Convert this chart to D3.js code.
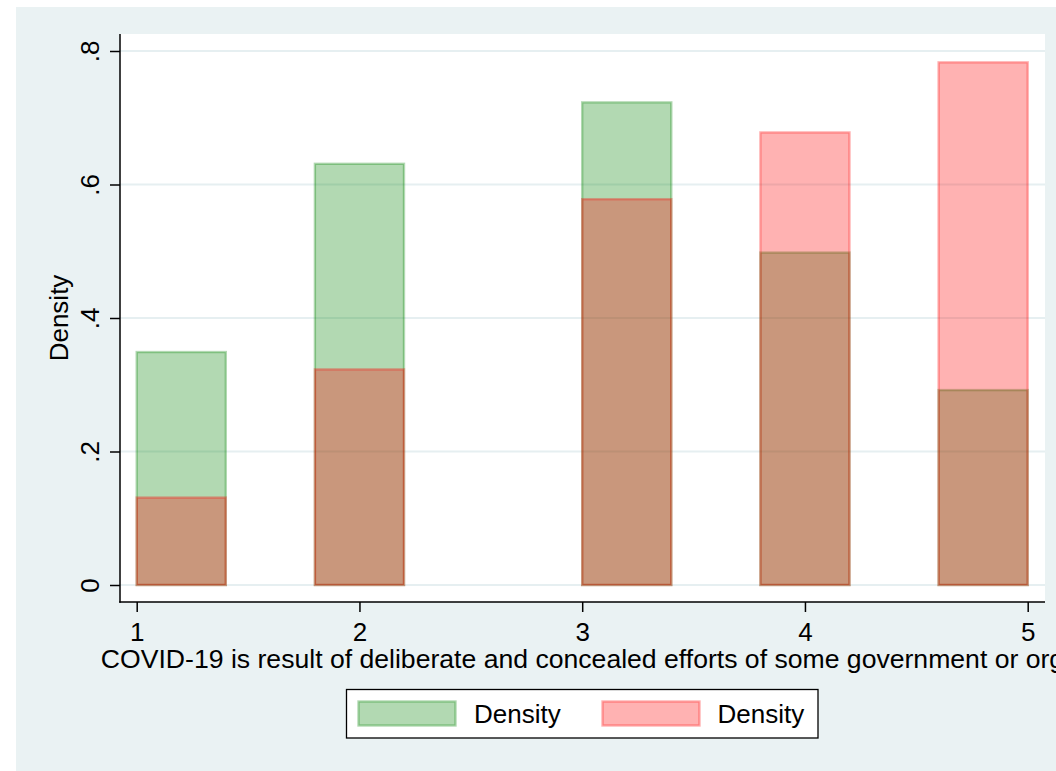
<!DOCTYPE html>
<html>
<head>
<meta charset="utf-8">
<script src="https://cdn.jsdelivr.net/npm/d3@7"></script>
<style>
  html, body { margin: 0; padding: 0; background: #ffffff; }
  svg { display: block; }
  text { font-family: "Liberation Sans", Arial, sans-serif; fill: #000; }
</style>
</head>
<body>
<svg id="chart" width="1056" height="771"></svg>
<script>
// ---- data ----
const binStarts = [1.0, 1.8, 3.0, 3.8, 4.6];      // lower edge of each non-empty bin
const binWidth = 0.4;
const greenDensity = [0.349, 0.631, 0.723, 0.498, 0.292];
const redDensity   = [0.131, 0.323, 0.578, 0.678, 0.783];
const xTicks = [1, 2, 3, 4, 5];
const yTicks = [0, 0.2, 0.4, 0.6, 0.8];
const yTickLabels = ["0", ".2", ".4", ".6", ".8"];
const seriesNames = ["Density", "Density"];
const xTitle = "COVID-19 is result of deliberate and concealed efforts of some government or org";
const yTitle = "Density";

// ---- layout ----
const bg = { x: 16, y: 7, w: 1056 - 16, h: 771 - 7 };
const plot = { left: 120, right: 1045, top: 34, bottom: 602 };
const FS = 26;

const svg = d3.select("#chart");
svg.append("rect").attr("x", bg.x).attr("y", bg.y).attr("width", bg.w).attr("height", bg.h)
  .attr("fill", "#eaf2f3");
svg.append("rect").attr("x", plot.left).attr("y", plot.top)
  .attr("width", plot.right - plot.left).attr("height", plot.bottom - plot.top)
  .attr("fill", "#ffffff");

const x = d3.scaleLinear().domain([1, 5]).range([136.7, 1027.7]);
const y = d3.scaleLinear().domain([0, 0.8]).range([585, 51]);

// gridlines
svg.append("g").selectAll("line").data(yTicks).join("line")
  .attr("x1", plot.left).attr("x2", plot.right)
  .attr("y1", d => y(d)).attr("y2", d => y(d))
  .attr("stroke", "#e6eff1").attr("stroke-width", 1.8);

// bars
const greenCol = "rgba(0,128,0,0.3)";
const redCol = "rgba(255,0,0,0.3)";
function drawBars(vals, col) {
  svg.append("g").selectAll("rect").data(vals).join("rect")
    .attr("x", (d, i) => x(binStarts[i]))
    .attr("width", (d, i) => x(binStarts[i] + binWidth) - x(binStarts[i]))
    .attr("y", d => y(d))
    .attr("height", d => y(0) - y(d))
    .attr("fill", col)
    .attr("stroke", col)
    .attr("stroke-width", 2.4);
}
drawBars(greenDensity, greenCol);
drawBars(redDensity, redCol);

// axes lines
svg.append("line").attr("x1", plot.left).attr("x2", plot.left)
  .attr("y1", plot.top).attr("y2", plot.bottom + 0.75)
  .attr("stroke", "#000").attr("stroke-width", 1.5);
svg.append("line").attr("x1", plot.left - 0.75).attr("x2", plot.right)
  .attr("y1", plot.bottom).attr("y2", plot.bottom)
  .attr("stroke", "#000").attr("stroke-width", 1.5);

// y axis
const yAxis = d3.axisLeft(y).tickValues(yTicks)
  .tickFormat((d, i) => yTickLabels[i]).tickSize(10).tickSizeOuter(0);
const gy = svg.append("g").attr("transform", `translate(${plot.left},0)`).call(yAxis);
gy.select(".domain").remove();
gy.selectAll(".tick line").attr("stroke", "#000").attr("stroke-width", 1.5);
gy.selectAll(".tick text")
  .attr("x", null).attr("dy", null)
  .attr("transform", "translate(-21,0) rotate(-90)")
  .attr("text-anchor", "middle")
  .style("font-size", FS + "px")
  .style("font-family", '"Liberation Sans", Arial, sans-serif')
  .attr("fill", "#000");

// x axis
const xAxis = d3.axisBottom(x).tickValues(xTicks).tickFormat(d3.format("d"))
  .tickSize(10).tickSizeOuter(0);
const gx = svg.append("g").attr("transform", `translate(0,${plot.bottom})`).call(xAxis);
gx.select(".domain").remove();
gx.selectAll(".tick line").attr("stroke", "#000").attr("stroke-width", 1.5);
gx.selectAll(".tick text")
  .attr("y", 39).attr("dy", null)
  .attr("text-anchor", "middle")
  .style("font-size", FS + "px")
  .style("font-family", '"Liberation Sans", Arial, sans-serif')
  .attr("fill", "#000");

// axis titles
const cx = (plot.left + plot.right) / 2;
svg.append("text").attr("x", cx).attr("y", 668)
  .attr("text-anchor", "middle").style("font-size", "26.6px").text(xTitle);
svg.append("text")
  .attr("transform", `translate(67.5,${(plot.top + plot.bottom) / 2}) rotate(-90)`)
  .attr("text-anchor", "middle").style("font-size", FS + "px").text(yTitle);

// legend
const lg = svg.append("g");
lg.append("rect").attr("x", 346.5).attr("y", 689.5).attr("width", 471.5).attr("height", 48.5)
  .attr("fill", "#fff").attr("stroke", "#000").attr("stroke-width", 1.3);
const legendItems = [
  { col: greenCol, name: seriesNames[0], sx: 358.5, tx: 474 },
  { col: redCol, name: seriesNames[1], sx: 602.5, tx: 717.5 }
];
legendItems.forEach(it => {
  lg.append("rect").attr("x", it.sx).attr("y", 701.5).attr("width", 97).attr("height", 24)
    .attr("fill", it.col).attr("stroke", it.col).attr("stroke-width", 2.4);
  lg.append("text").attr("x", it.tx).attr("y", 723).style("font-size", FS + "px").text(it.name);
});
</script>
</body>
</html>
